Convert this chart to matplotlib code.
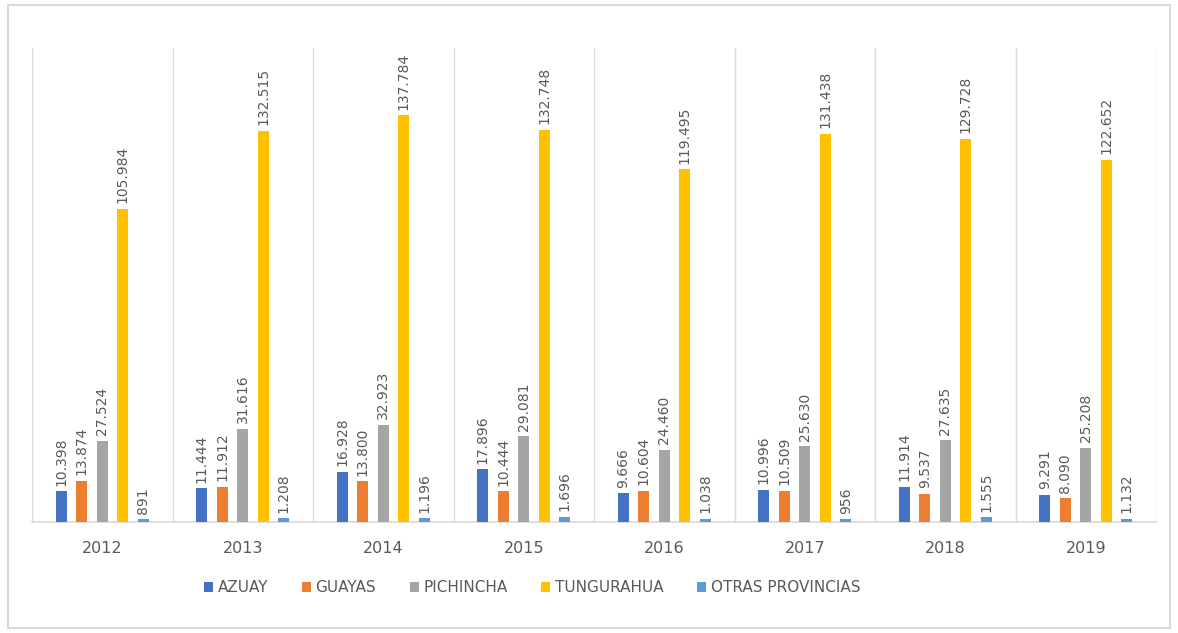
import numpy as np
import matplotlib.pyplot as plt
from matplotlib.patches import Rectangle

years = ["2012", "2013", "2014", "2015", "2016", "2017", "2018", "2019"]
azuay = [10398, 11444, 16928, 17896, 9666, 10996, 11914, 9291]
guayas = [13874, 11912, 13800, 10444, 10604, 10509, 9537, 8090]
pichincha = [27524, 31616, 32923, 29081, 24460, 25630, 27635, 25208]
tungurahua = [105984, 132515, 137784, 132748, 119495, 131438, 129728, 122652]
otras = [891, 1208, 1196, 1696, 1038, 956, 1555, 1132]

series = [
    ("AZUAY", azuay, "#4472C4"),
    ("GUAYAS", guayas, "#ED7D31"),
    ("PICHINCHA", pichincha, "#A5A5A5"),
    ("TUNGURAHUA", tungurahua, "#FFC000"),
    ("OTRAS PROVINCIAS", otras, "#5B9BD5"),
]

text_color = "#595959"
grid_color = "#D9D9D9"


def fmt(v):
    # thousands separated by a dot
    return f"{v:,}".replace(",", ".")


fig = plt.figure(figsize=(11.78, 6.33), dpi=100)
ax = fig.add_axes([32 / 1178, 1 - 522 / 633, 1124 / 1178, 474 / 633])

x = np.arange(len(years))
step = 0.146
width = 0.08
for i, (name, vals, color) in enumerate(series):
    pos = x + (i - 2) * step
    ax.bar(pos, vals, width=width, color=color, label=name, zorder=3)
    for px, v in zip(pos, vals):
        ax.annotate(fmt(v), (px, v), xytext=(0, 4), textcoords="offset points",
                    rotation=90, ha="center", va="bottom", fontsize=10,
                    color=text_color, family="Liberation Sans Narrow")

ax.set_xlim(-0.5, len(years) - 0.5)
ax.set_ylim(0, 160500)
ax.set_yticks([])
ax.set_xticks(x)
ax.set_xticklabels(years, fontsize=11.5, color=text_color)
ax.tick_params(axis="x", length=0, pad=14)

# category separators
for b in np.arange(-0.5, len(years), 1.0):
    ax.axvline(b, color=grid_color, lw=1, zorder=1)

for side in ["top", "left", "right"]:
    ax.spines[side].set_visible(False)
ax.spines["bottom"].set_color(grid_color)
ax.spines["bottom"].set_linewidth(1.2)

leg = fig.legend(loc="center", bbox_to_anchor=(532 / 1178, 1 - 588 / 633),
                 ncol=5, frameon=False, fontsize=11, handlelength=0.6,
                 handleheight=0.6, handletextpad=0.3, columnspacing=2.2)
for t in leg.get_texts():
    t.set_color(text_color)

# outer chart border
fig.patches.append(Rectangle((8 / 1178, 5 / 633), 1162 / 1178, 623 / 633,
                             transform=fig.transFigure, fill=False,
                             edgecolor=grid_color, lw=1.5))

fig.savefig("out.png", dpi=100)
